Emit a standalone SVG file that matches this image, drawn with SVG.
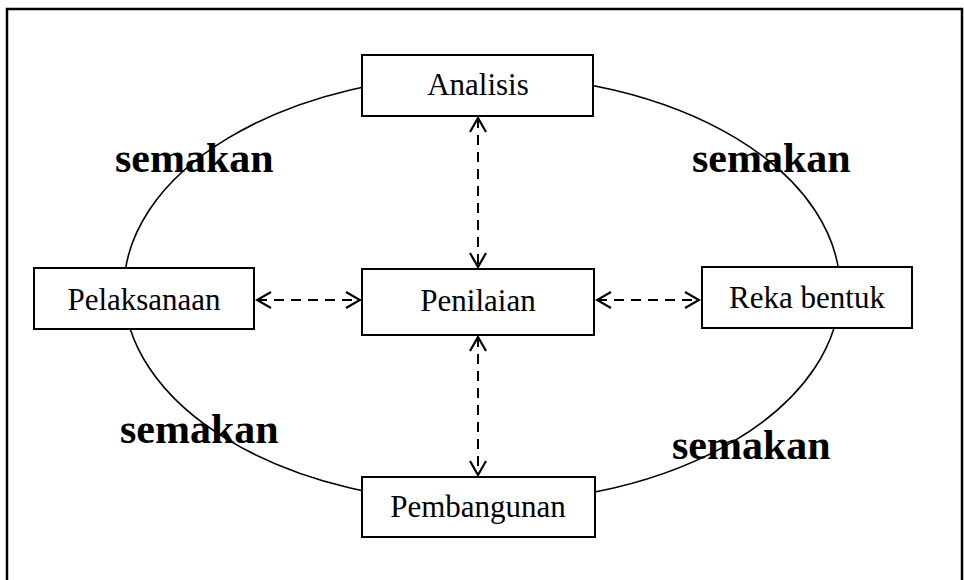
<svg xmlns="http://www.w3.org/2000/svg" width="964" height="580" viewBox="0 0 964 580">
<style>
.box{fill:#fff;stroke:#000;stroke-width:2}
.lbl{font-family:"Liberation Serif","Times New Roman",serif;font-size:31px;fill:#000;text-anchor:middle}
.sem{font-family:"Liberation Serif","Times New Roman",serif;font-size:42px;font-weight:bold;fill:#000}
.conn{stroke:#000;stroke-width:2;stroke-dasharray:10 7;fill:none;marker-start:url(#ah);marker-end:url(#ah)}
</style>
<defs>
<marker id="ah" markerUnits="userSpaceOnUse" viewBox="-16 -10 18 20" refX="0" refY="0" markerWidth="18" markerHeight="20" orient="auto-start-reverse">
<path d="M-14,-8 L0,0 L-14,8" fill="none" stroke="#000" stroke-width="2.2"/>
</marker>
</defs>
<rect x="0" y="0" width="964" height="580" fill="#fff"/>
<rect x="7" y="9" width="955" height="590" fill="none" stroke="#000" stroke-width="2.5"/>
<ellipse cx="482" cy="289" rx="358" ry="214" fill="none" stroke="#000" stroke-width="1.6"/>
<g id="connectors">
<line class="conn" x1="478" y1="118" x2="478" y2="267"/>
<line class="conn" x1="478" y1="337" x2="478" y2="475"/>
<line class="conn" x1="257" y1="300" x2="360" y2="300"/>
<line class="conn" x1="597" y1="300" x2="699" y2="300"/>
</g>
<g id="analisis"><rect class="box" x="362" y="55" width="231" height="61"/><text class="lbl" x="478" y="95">Analisis</text></g>
<g id="penilaian"><rect class="box" x="362" y="269" width="232" height="66"/><text class="lbl" x="478" y="311">Penilaian</text></g>
<g id="pembangunan"><rect class="box" x="362" y="477" width="233" height="60"/><text class="lbl" x="478" y="517">Pembangunan</text></g>
<g id="pelaksanaan"><rect class="box" x="34" y="268" width="220" height="61"/><text class="lbl" x="144" y="310">Pelaksanaan</text></g>
<g id="rekabentuk"><rect class="box" x="702" y="267" width="210" height="61"/><text class="lbl" x="807" y="308">Reka bentuk</text></g>
<g id="labels">
<text class="sem" x="115" y="172">semakan</text>
<text class="sem" x="692" y="172">semakan</text>
<text class="sem" x="120" y="443">semakan</text>
<text class="sem" x="672" y="459">semakan</text>
</g>
</svg>
